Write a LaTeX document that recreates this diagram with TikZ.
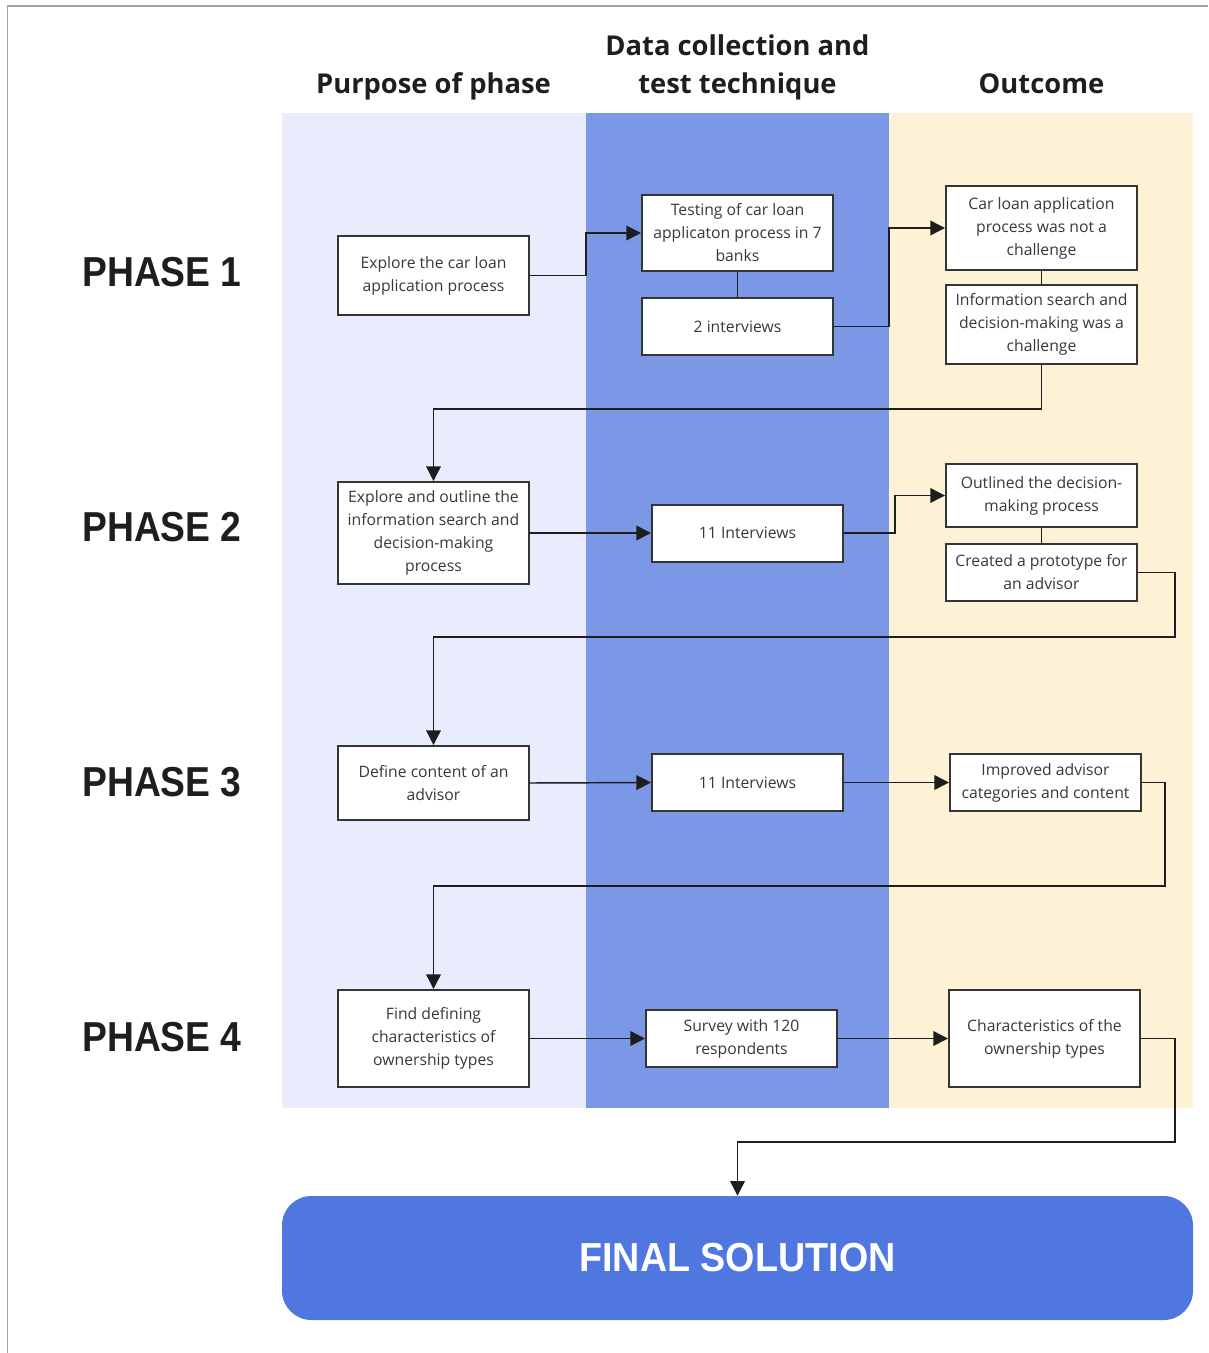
\documentclass[tikz,border=0pt]{standalone}
\usepackage{fontspec}
\setmainfont{Open Sans}
\newfontfamily\labelfont{Liberation Sans}
\usetikzlibrary{arrows.meta,calc}

\definecolor{laneone}{HTML}{E8ECFD}
\definecolor{lanetwo}{HTML}{7A98E6}
\definecolor{lanethree}{HTML}{FEF2D6}
\definecolor{finalblue}{HTML}{5077E0}
\definecolor{ink}{HTML}{1E1E1E}
\definecolor{boxtext}{HTML}{383838}
\definecolor{framegray}{HTML}{A0A0A0}

\tikzset{
  stepbox/.style={draw=ink!90, fill=white, line width=1.5pt, align=center,
    inner sep=0pt, minimum width=143.25pt, text=boxtext,
    font=\fontsize{11.8}{17.25}\selectfont},
  conn/.style={draw=ink, line width=1.1pt, -{Triangle[length=11pt,width=11pt]}},
  link/.style={draw=ink, line width=1.1pt},
  colhead/.style={anchor=base, align=center, text=ink,
    font=\fontsize{20.5}{28.5}\selectfont\bfseries},
  phaselabel/.style={anchor=west, text=ink, inner sep=0pt},
}

\newcommand{\phasetext}[1]{\scalebox{0.89}[1]{\labelfont\fontsize{31.4}{34}\selectfont\bfseries #1}}

\begin{document}
\begin{tikzpicture}[x=0.75pt,y=-0.75pt]
  \useasboundingbox (0,0) rectangle (1208,1353);

  % page frame (top and left edges)
  \draw[framegray, line width=1.1pt] (7.5,1353) -- (7.5,6) -- (1208,6);

  % column lanes
  \fill[laneone]   (282,113) rectangle (586,1108);
  \fill[lanetwo]   (586,113) rectangle (889,1108);
  \fill[lanethree] (889,113) rectangle (1193,1108);
  \coordinate (lane12) at (586,0);
  \coordinate (lane23) at (889,0);

  % column headings
  \node[colhead] (hA) at (433.5,93) {Purpose of phase};
  \node[colhead] (hB) at (737.5,55) {Data collection and};
  \node[colhead] (hB2) at (737.5,93) {test technique};
  \node[colhead] (hC) at (1041.5,93) {Outcome};

  % phase labels
  \node[phaselabel] (p1) at (82,272)  {\phasetext{PHASE 1}};
  \node[phaselabel] (p2) at (82,527)  {\phasetext{PHASE 2}};
  \node[phaselabel] (p3) at (82,782)  {\phasetext{PHASE 3}};
  \node[phaselabel] (p4) at (82,1037) {\phasetext{PHASE 4}};

  % purpose of phase
  \node[stepbox, minimum height=59.25pt] (A1) at (433.5,275.5)
    {Explore the car loan\\application process};
  \node[stepbox, minimum height=76.5pt] (A2) at (433.5,533)
    {Explore and outline the\\information search and\\decision-making\\process};
  \node[stepbox, minimum height=55.5pt] (A3) at (433.5,783)
    {Define content of an\\advisor};
  \node[stepbox, minimum height=72.75pt] (A4) at (433.5,1038.5)
    {Find defining\\characteristics of\\ownership types};

  % data collection and test technique
  \node[stepbox, minimum height=57pt] (B1a) at (737.5,233)
    {Testing of car loan\\applicaton process in 7\\banks};
  \node[stepbox, minimum height=42.75pt] (B1b) at (737.5,326.5)
    {2 interviews};
  \node[stepbox, minimum height=42.75pt] (B2) at (747.5,533)
    {11 Interviews};
  \node[stepbox, minimum height=42.75pt] (B3) at (747.5,782.5)
    {11 Interviews};
  \node[stepbox, minimum height=42.75pt] (B4) at (741.5,1038.5)
    {Survey with 120\\respondents};

  % outcome
  \node[stepbox, minimum height=63pt] (C1a) at (1041.5,228)
    {Car loan application\\process was not a\\challenge};
  \node[stepbox, minimum height=59.25pt] (C1b) at (1041.5,324.5)
    {Information search and\\decision-making was a\\challenge};
  \node[stepbox, minimum height=47.25pt] (C2a) at (1041.5,495.5)
    {Outlined the decision-\\making process};
  \node[stepbox, minimum height=42.75pt] (C2b) at (1041.5,572.5)
    {Created a prototype for\\an advisor};
  \node[stepbox, minimum height=42.75pt] (C3) at (1045.5,782.5)
    {Improved advisor\\categories and content};
  \node[stepbox, minimum height=72.75pt] (C4) at (1044.5,1038.5)
    {Characteristics of the\\ownership types};

  % final solution
  \node[fill=finalblue, rounded corners=22pt, minimum width=683.25pt,
        minimum height=93pt, inner sep=0pt, text=white] (final) at (737.5,1258)
    {\scalebox{0.93}[1]{\labelfont\fontsize{30.4}{34}\selectfont\bfseries FINAL SOLUTION}};

  % turning points of the connectors
  \coordinate (turnB2) at (895,0);
  \coordinate (turnC2) at (1175,0);
  \coordinate (turnC3) at (1165,0);
  \coordinate (turnC4) at (1175,0);
  \coordinate (ret1) at (433.5,409);
  \coordinate (ret2) at (433.5,637);
  \coordinate (ret3) at (433.5,886);
  \coordinate (ret4) at (737.5,1142);

  % phase 1
  \draw[conn] (A1.east) -- (A1.east -| lane12) |- (B1a.west);
  \draw[link] (B1a.south) -- (B1b.north);
  \draw[conn] (B1b.east) -- (B1b.east -| lane23) |- (C1a.west);
  \draw[link] (C1a.south) -- (C1b.north);
  \draw[conn] (C1b.south) |- (ret1) -- (A2.north);

  % phase 2
  \draw[conn] (A2.east) -- (B2.west);
  \draw[conn] (B2.east) -- (B2.east -| turnB2) |- (C2a.west);
  \draw[link] (C2a.south) -- (C2b.north);
  \draw[conn] (C2b.east) -- (C2b.east -| turnC2) |- (ret2) -- (A3.north);

  % phase 3
  \draw[conn] (A3.east) -- (B3.west);
  \draw[conn] (B3.east) -- (C3.west);
  \draw[conn] (C3.east) -- (C3.east -| turnC3) |- (ret3) -- (A4.north);

  % phase 4
  \draw[conn] (A4.east) -- (B4.west);
  \draw[conn] (B4.east) -- (C4.west);
  \draw[conn] (C4.east) -- (C4.east -| turnC4) |- (ret4) -- (final.north);
\end{tikzpicture}
\end{document}
